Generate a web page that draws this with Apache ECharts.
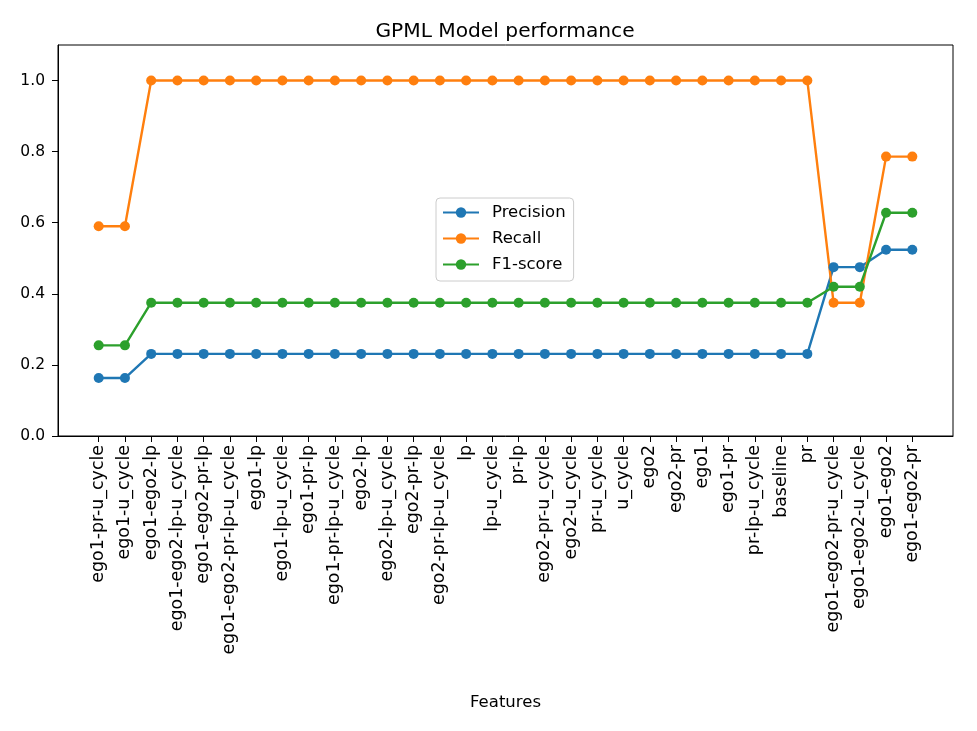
<!DOCTYPE html>
<html>
<head>
<meta charset="utf-8">
<script src="https://cdn.jsdelivr.net/npm/echarts@6/dist/echarts.min.js"></script>
<style>html,body{margin:0;padding:0;background:#fff;}#chart{width:977px;height:731px;}</style>
</head>
<body>
<div id="chart"></div>
<script>
const categories = ["ego1-pr-u_cycle","ego1-u_cycle","ego1-ego2-lp","ego1-ego2-lp-u_cycle","ego1-ego2-pr-lp","ego1-ego2-pr-lp-u_cycle","ego1-lp","ego1-lp-u_cycle","ego1-pr-lp","ego1-pr-lp-u_cycle","ego2-lp","ego2-lp-u_cycle","ego2-pr-lp","ego2-pr-lp-u_cycle","lp","lp-u_cycle","pr-lp","ego2-pr-u_cycle","ego2-u_cycle","pr-u_cycle","u_cycle","ego2","ego2-pr","ego1","ego1-pr","pr-lp-u_cycle","baseline","pr","ego1-ego2-pr-u_cycle","ego1-ego2-u_cycle","ego1-ego2","ego1-ego2-pr"];
const precision = [0.163,0.163,0.231,0.231,0.231,0.231,0.231,0.231,0.231,0.231,0.231,0.231,0.231,0.231,0.231,0.231,0.231,0.231,0.231,0.231,0.231,0.231,0.231,0.231,0.231,0.231,0.231,0.231,0.475,0.475,0.524,0.524];
const recall = [0.59,0.59,1.0,1.0,1.0,1.0,1.0,1.0,1.0,1.0,1.0,1.0,1.0,1.0,1.0,1.0,1.0,1.0,1.0,1.0,1.0,1.0,1.0,1.0,1.0,1.0,1.0,1.0,0.375,0.375,0.786,0.786];
const f1score = [0.255,0.255,0.375,0.375,0.375,0.375,0.375,0.375,0.375,0.375,0.375,0.375,0.375,0.375,0.375,0.375,0.375,0.375,0.375,0.375,0.375,0.375,0.375,0.375,0.375,0.375,0.375,0.375,0.42,0.42,0.628,0.628];
const yTicks = [0.0,0.2,0.4,0.6,0.8,1.0];

const idx = categories.map((_, i) => i);
const pairs = arr => arr.map((v, i) => [i, v]);
const font = 'DejaVu Sans';

function mk(name, data, color) {
  return {
    name, type: 'line', data: pairs(data),
    symbol: 'circle', symbolSize: 10,
    lineStyle: { color, width: 2.4 },
    itemStyle: { color },
    emphasis: { disabled: true },
    animation: false
  };
}

const chart = echarts.init(document.getElementById('chart'));
chart.setOption({
  backgroundColor: '#fff',
  animation: false,
  title: {
    text: 'GPML Model performance', left: 500, top: 17, textAlign: 'center',
    textStyle: { fontFamily: font, fontSize: 20.2, fontWeight: 'normal', color: '#000' }
  },
  grid: { left: 58, right: 24, top: 45, bottom: 295, show: true, borderColor: '#000', borderWidth: 1, backgroundColor: 'transparent' },
  legend: {
    orient: 'vertical', left: 436, top: 198,
    data: ['Precision', 'Recall', 'F1-score'],
    itemWidth: 36, itemHeight: 13, itemGap: 9,
    padding: [6, 8, 8, 6],
    backgroundColor: '#fff', borderColor: '#ccc', borderWidth: 1, borderRadius: 4,
    textStyle: { fontFamily: font, fontSize: 16.5, color: '#000', padding: [0, 0, 0, 8] }
  },
  xAxis: {
    type: 'value', min: -1.55, max: 32.55,
    name: 'Features', nameLocation: 'middle', nameGap: 258,
    nameTextStyle: { fontFamily: font, fontSize: 16.5, color: '#000' },
    axisLine: { show: true, onZero: false, lineStyle: { color: '#000' } },
    axisTick: { show: true, customValues: idx, length: 6, lineStyle: { color: '#000' } },
    axisLabel: {
      customValues: idx, rotate: 90, margin: 9,
      fontFamily: font, fontSize: 17.4, color: '#000',
      formatter: v => categories[Math.round(v)] ?? ''
    },
    splitLine: { show: false }
  },
  yAxis: {
    type: 'value', min: 0, max: 1.1,
    axisLine: { show: true, onZero: false, lineStyle: { color: '#000' } },
    axisTick: { show: true, customValues: yTicks, length: 6, lineStyle: { color: '#000' } },
    axisLabel: {
      customValues: yTicks, margin: 13,
      fontFamily: font, fontSize: 15.5, color: '#000',
      formatter: v => v.toFixed(1)
    },
    splitLine: { show: false }
  },
  series: [
    mk('Precision', precision, '#1f77b4'),
    mk('Recall', recall, '#ff7f0e'),
    mk('F1-score', f1score, '#2ca02c')
  ]
});
</script>
</body>
</html>
